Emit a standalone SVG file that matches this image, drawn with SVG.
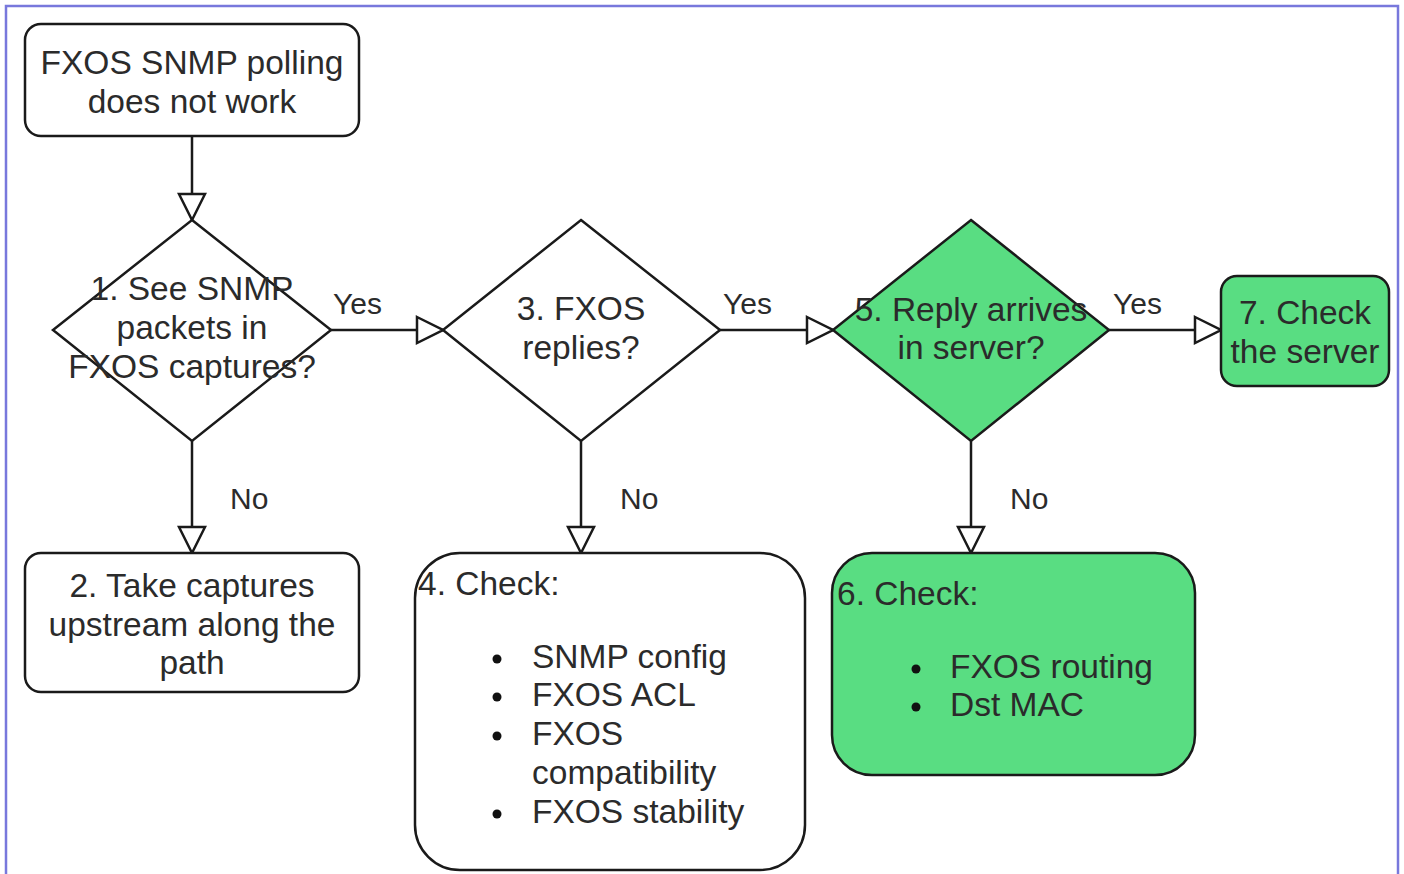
<svg xmlns="http://www.w3.org/2000/svg" width="1404" height="874" viewBox="0 0 1404 874">
<defs>
<style>
.node{stroke:#1a1a1a;stroke-width:2.5;fill:#ffffff}
.green{fill:#59dd82}
.t{font-family:"Liberation Sans",Arial,sans-serif;font-size:33.5px;fill:#2b2b2b}
.c{text-anchor:middle}
.lbl{font-family:"Liberation Sans",Arial,sans-serif;font-size:30px;fill:#2b2b2b}
.edge{stroke:#1a1a1a;stroke-width:2.5;fill:none;marker-end:url(#arr)}
</style>
<marker id="arr" viewBox="0 0 30 30" markerWidth="30" markerHeight="30" refX="28" refY="15" orient="auto" markerUnits="userSpaceOnUse">
<path d="M2,2 L28,15 L2,28 Z" fill="#ffffff" stroke="#1a1a1a" stroke-width="2.5"/>
</marker>
</defs>
<rect x="0" y="0" width="1404" height="874" fill="#ffffff"/>
<rect x="6" y="6" width="1392" height="900" fill="none" stroke="#7878dc" stroke-width="2.5"/>

<g id="connectors">
<path class="edge" d="M192,137 V220"/>
<path class="edge" d="M192,441 V553"/>
<path class="edge" d="M331,330 H443"/>
<path class="edge" d="M581,441 V553"/>
<path class="edge" d="M720,330 H833"/>
<path class="edge" d="M971,441 V553"/>
<path class="edge" d="M1109,330 H1221"/>
<text class="lbl" x="333" y="314">Yes</text>
<text class="lbl" x="723" y="314">Yes</text>
<text class="lbl" x="1113" y="314">Yes</text>
<text class="lbl" x="230" y="509">No</text>
<text class="lbl" x="620" y="509">No</text>
<text class="lbl" x="1010" y="509">No</text>
</g>

<g id="start">
<rect class="node" x="25" y="24" width="334" height="112" rx="16"/>
<text class="t c" x="192" y="74">FXOS SNMP polling</text>
<text class="t c" x="192" y="113">does not work</text>
</g>

<g id="d1">
<polygon class="node" points="192,220 331,330 192,441 53,330"/>
<text class="t c" x="192" y="300">1. See SNMP</text>
<text class="t c" x="192" y="339">packets in</text>
<text class="t c" x="192" y="378">FXOS captures?</text>
</g>

<g id="n2">
<rect class="node" x="25" y="553" width="334" height="139" rx="16"/>
<text class="t c" x="192" y="597">2. Take captures</text>
<text class="t c" x="192" y="636">upstream along the</text>
<text class="t c" x="192" y="674">path</text>
</g>

<g id="d3">
<polygon class="node" points="581,220 720,330 581,441 443,330"/>
<text class="t c" x="581" y="320">3. FXOS</text>
<text class="t c" x="581" y="359">replies?</text>
</g>

<g id="n4">
<rect class="node" x="415" y="553" width="390" height="317" rx="45"/>
<text class="t" x="418" y="595">4. Check:</text>
<circle cx="497" cy="659" r="4.5" fill="#111"/>
<circle cx="497" cy="697" r="4.5" fill="#111"/>
<circle cx="497" cy="736" r="4.5" fill="#111"/>
<circle cx="497" cy="814" r="4.5" fill="#111"/>
<text class="t" x="532" y="668">SNMP config</text>
<text class="t" x="532" y="706">FXOS ACL</text>
<text class="t" x="532" y="745">FXOS</text>
<text class="t" x="532" y="784">compatibility</text>
<text class="t" x="532" y="823">FXOS stability</text>
</g>

<g id="d5">
<polygon class="node green" points="971,220 1109,330 971,441 833,330"/>
<text class="t c" x="971" y="321">5. Reply arrives</text>
<text class="t c" x="971" y="359">in server?</text>
</g>

<g id="n6">
<rect class="node green" x="832" y="553" width="363" height="222" rx="40"/>
<text class="t" x="837" y="605">6. Check:</text>
<circle cx="916" cy="669" r="4.5" fill="#111"/>
<circle cx="916" cy="707" r="4.5" fill="#111"/>
<text class="t" x="950" y="678">FXOS routing</text>
<text class="t" x="950" y="716">Dst MAC</text>
</g>

<g id="n7">
<rect class="node green" x="1221" y="276" width="168" height="110" rx="16"/>
<text class="t c" x="1305" y="324">7. Check</text>
<text class="t c" x="1305" y="363">the server</text>
</g>
</svg>
